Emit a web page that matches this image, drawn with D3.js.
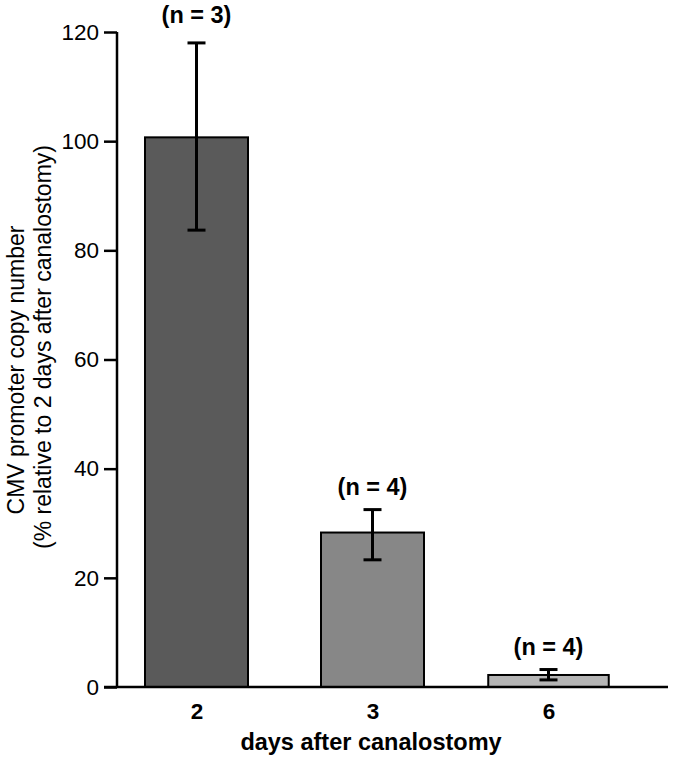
<!DOCTYPE html>
<html>
<head>
<meta charset="utf-8">
<script src="https://cdn.jsdelivr.net/npm/d3@7"></script>
<style>
  html, body { margin: 0; padding: 0; background: #fff; }
  svg { display: block; font-family: Arial, "Liberation Sans", Helvetica, sans-serif; }
</style>
</head>
<body>
<svg id="chart" width="675" height="761"></svg>
<script>
// ---- data ----
const categories = ["2", "3", "6"];
const meanValues = [100.7, 28.3, 2.2];
const errorUpper = [118.0, 32.5, 3.2];
const errorLower = [83.7, 23.3, 1.3];
const sampleSizes = [3, 4, 4];
const yTicks = [0, 20, 40, 60, 80, 100, 120];

// ---- styles ----
const barColors = ["#5a5a5a", "#878787", "#b5b5b5"];
const barWidthFactor = [1, 1, 1.17];

const svg = d3.select("#chart");
const plot = { left: 117, right: 668, top: 32, bottom: 687 };

const y = d3.scaleLinear().domain([0, 120]).range([plot.bottom, plot.top]);
const x = d3.scalePoint().domain(categories).range([196.5, 548.5]);
const barW = 103;

const data = categories.map((c, i) => ({
  cat: c, mean: meanValues[i], hi: errorUpper[i], lo: errorLower[i],
  n: sampleSizes[i], color: barColors[i], w: barW * barWidthFactor[i]
}));

// bars
svg.append("g").selectAll("rect").data(data).join("rect")
  .attr("x", d => x(d.cat) - d.w / 2)
  .attr("y", d => y(d.mean))
  .attr("width", d => d.w)
  .attr("height", d => y(0) - y(d.mean))
  .attr("fill", d => d.color)
  .attr("stroke", "#000")
  .attr("stroke-width", 2);

// error bars
const eb = svg.append("g").attr("stroke", "#000").attr("stroke-width", 3);
data.forEach(d => {
  const cx = x(d.cat);
  eb.append("line").attr("x1", cx).attr("x2", cx).attr("y1", y(d.hi)).attr("y2", y(d.lo));
  eb.append("line").attr("x1", cx - 9).attr("x2", cx + 9).attr("y1", y(d.hi)).attr("y2", y(d.hi));
  eb.append("line").attr("x1", cx - 9).attr("x2", cx + 9).attr("y1", y(d.lo)).attr("y2", y(d.lo));
});

// n labels
svg.append("g").selectAll("text").data(data).join("text")
  .attr("x", d => x(d.cat))
  .attr("y", (d, i) => y(d.hi) - (i === 0 ? 20 : 15))
  .attr("text-anchor", "middle")
  .attr("font-size", 23.5)
  .attr("font-weight", "bold")
  .attr("fill", "#000")
  .text(d => `(n = ${d.n})`);

// y axis
const yAxis = d3.axisLeft(y).tickValues(yTicks).tickSize(13).tickPadding(5);
const gy = svg.append("g").attr("transform", `translate(${plot.left},0)`).call(yAxis);
gy.select(".domain").attr("d", `M0,${plot.top}V${plot.bottom}`).attr("stroke", "#000").attr("stroke-width", 2.5);
gy.selectAll(".tick line").attr("stroke", "#000").attr("stroke-width", 2.5);
gy.selectAll(".tick text").attr("font-size", 22.5).attr("fill", "#000")
  .attr("font-family", "Arial, 'Liberation Sans', sans-serif");

// x axis
const xAxis = d3.axisBottom(x).tickSize(0).tickPadding(0);
const gx = svg.append("g").attr("transform", `translate(0,${plot.bottom})`).call(xAxis);
gx.select(".domain").attr("d", `M104,0H${plot.right}`).attr("stroke", "#000").attr("stroke-width", 2.5);
gx.selectAll(".tick text").attr("font-size", 22.5).attr("font-weight", "bold").attr("fill", "#000")
  .attr("font-family", "Arial, 'Liberation Sans', sans-serif")
  .attr("dy", null).attr("y", 32);

// axis titles
svg.append("text")
  .attr("x", 371).attr("y", 750)
  .attr("text-anchor", "middle")
  .attr("font-size", 23.5).attr("font-weight", "bold").attr("fill", "#000")
  .text("days after canalostomy");

svg.append("text")
  .attr("transform", "translate(24,370) rotate(-90)")
  .attr("text-anchor", "middle")
  .attr("font-size", 23).attr("fill", "#000").text("CMV promoter copy number");
svg.append("text")
  .attr("transform", "translate(51,347) rotate(-90)")
  .attr("text-anchor", "middle")
  .attr("font-size", 23).attr("fill", "#000").text("(% relative to 2 days after canalostomy)");
</script>
</body>
</html>
